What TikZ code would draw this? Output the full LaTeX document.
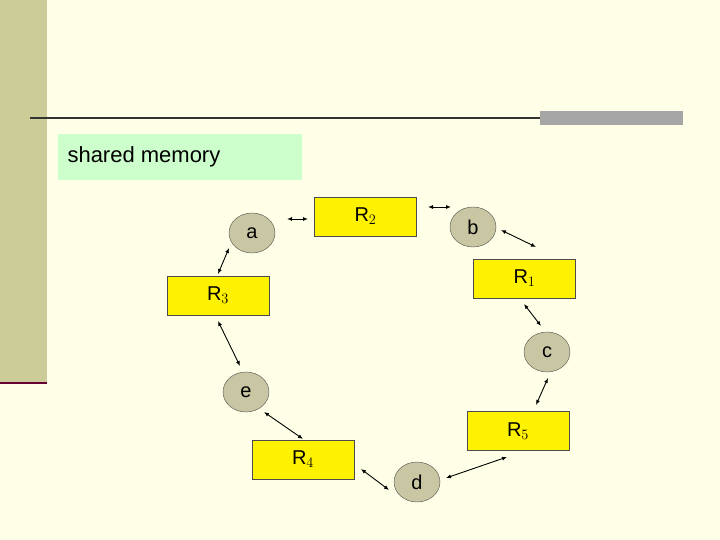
\documentclass[tikz,border=0pt]{standalone}
\usepackage{fontspec}
\setmainfont{Liberation Sans}
\usetikzlibrary{arrows.meta}
\definecolor{bg}{HTML}{FFFFE7}
\definecolor{tan}{HTML}{CCCC99}
\definecolor{circ}{HTML}{C9C7A3}
\definecolor{grn}{HTML}{CCFFCC}
\begin{document}
\begin{tikzpicture}[x=1pt,y=-1pt,
  rbox/.style={draw=black!70,fill=yellow,minimum width=102pt,minimum height=39pt,inner sep=0pt,font=\fontsize{20}{24}\selectfont},
  proc/.style={draw=black!70,fill=circ,ellipse,minimum width=46pt,minimum height=40pt,inner sep=0pt,font=\fontsize{20}{24}\selectfont},
  link/.style={{Latex[length=5pt,width=4pt]}-{Latex[length=5pt,width=4pt]},line width=0.9pt}]
\usetikzlibrary{shapes.geometric}
\useasboundingbox (0,0) rectangle (720,540);
\fill[bg] (0,0) rectangle (720,540);
\fill[tan] (0,0) rectangle (47,384);
\draw[line width=2.5pt,draw={rgb,255:red,102;green,0;blue,51}] (0,383) -- (47,383);
\draw[line width=1.2pt,black!80] (30,118) -- (540,118);
\fill[gray!70] (540,111) rectangle (683,125);
\node[fill=grn,minimum width=244pt,minimum height=46pt,inner sep=0pt] (sm) at (180,157) {};
\node[anchor=west,font=\fontsize{22}{26}\selectfont] (smt) at (64,157) {shared memory};

\node[rbox] (R2) at (365.5,216.5) {R$_2$};
\node[rbox] (R1) at (524.5,278.5) {R$_1$};
\node[rbox] (R3) at (218,295.5) {R$_3$};
\node[rbox] (R5) at (518,431) {R$_5$};
\node[rbox] (R4) at (303,459.5) {R$_4$};
\node[proc] (a) at (252,233) {a};
\node[proc] (b) at (473,227) {b};
\node[proc] (c) at (547,352) {c};
\node[proc] (e) at (246,392) {e};
\node[proc] (d) at (417,482) {d};

\coordinate (a1) at (287,219); \coordinate (a2) at (308,219);
\coordinate (b1) at (428,207); \coordinate (b2) at (451,207);
\coordinate (c1) at (501,230); \coordinate (c2) at (536,247);
\coordinate (d1) at (524,304); \coordinate (d2) at (541,326);
\coordinate (e1) at (548,378); \coordinate (e2) at (536,405);
\coordinate (f1) at (507,457); \coordinate (f2) at (446,478);
\coordinate (g1) at (389,490); \coordinate (g2) at (361,469);
\coordinate (h1) at (303,439); \coordinate (h2) at (264,412);
\coordinate (i1) at (240,366); \coordinate (i2) at (218,321);
\coordinate (j1) at (218,274); \coordinate (j2) at (229,248);
\foreach \p in {a,b,c,d,e,f,g,h,i,j} \draw[link] (\p1) -- (\p2);
\end{tikzpicture}
\end{document}
